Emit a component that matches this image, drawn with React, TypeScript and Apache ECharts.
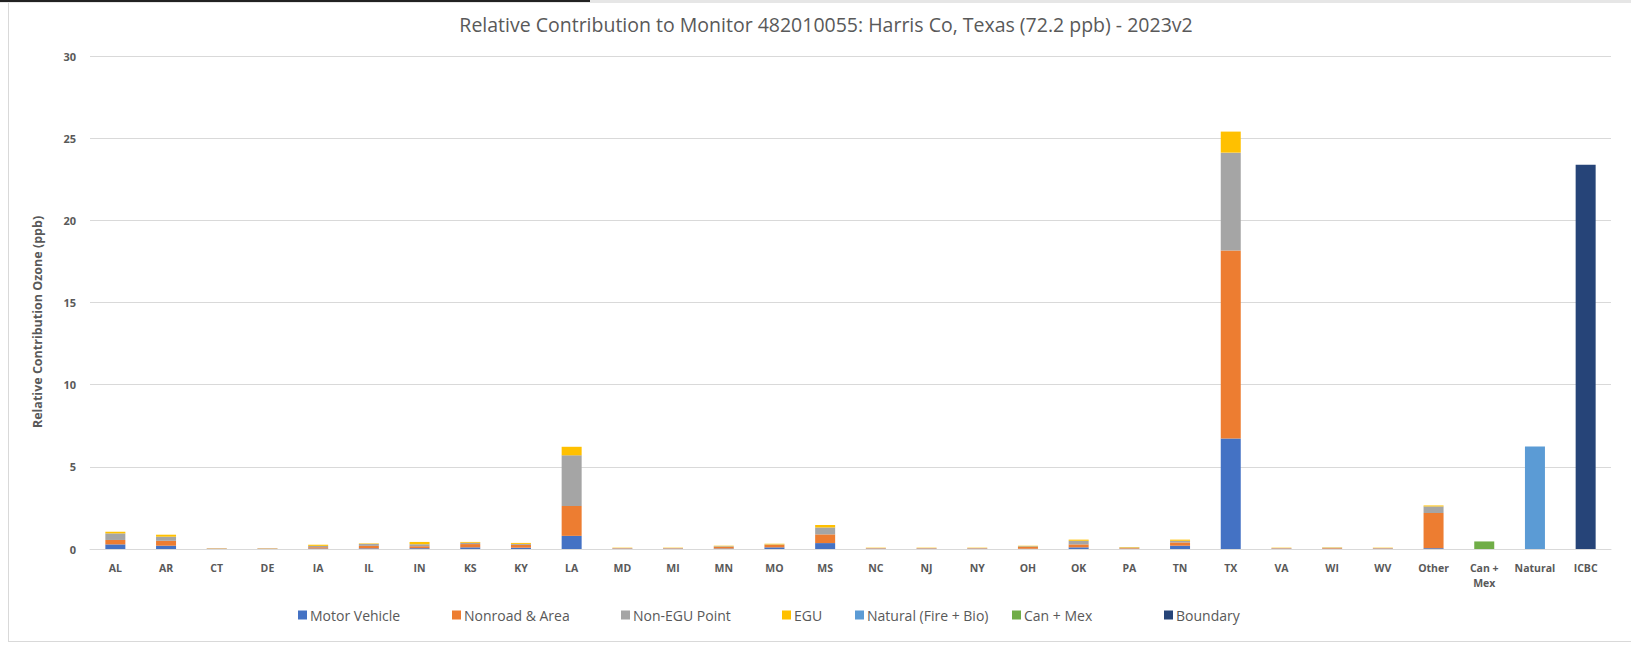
import React, { useEffect, useRef } from "react";
import * as echarts from "echarts";

const categories = ["AL","AR","CT","DE","IA","IL","IN","KS","KY","LA","MD","MI","MN","MO","MS","NC","NJ","NY","OH","OK","PA","TN","TX","VA","WI","WV","Other","Can +\nMex","Natural","ICBC"];

const motorVehicle = [0.28,0.2,0.01,0.01,0.03,0.04,0.05,0.1,0.08,0.8,0.01,0.01,0.03,0.1,0.36,0.01,0.01,0.01,0.02,0.1,0.01,0.2,6.72,0.01,0.01,0.01,0.05,0,0,0];
const nonroadArea = [0.27,0.3,0.02,0.02,0.08,0.15,0.12,0.2,0.17,1.82,0.03,0.03,0.1,0.16,0.53,0.03,0.03,0.03,0.1,0.18,0.04,0.2,11.45,0.03,0.04,0.03,2.14,0,0,0];
const nonEguPoint = [0.4,0.25,0.01,0.01,0.08,0.12,0.12,0.08,0.06,3.08,0.02,0.02,0.04,0.02,0.42,0.02,0.02,0.02,0.04,0.22,0.04,0.1,5.95,0.02,0.03,0.02,0.4,0,0,0];
const egu = [0.1,0.12,0.01,0.01,0.07,0.03,0.14,0.05,0.06,0.52,0.02,0.02,0.03,0.04,0.15,0.02,0.02,0.02,0.04,0.07,0.03,0.07,1.28,0.02,0.02,0.02,0.06,0,0,0];
const naturalFireBio = [0,0,0,0,0,0,0,0,0,0,0,0,0,0,0,0,0,0,0,0,0,0,0,0,0,0,0,0,6.24,0];
const canMex = [0,0,0,0,0,0,0,0,0,0,0,0,0,0,0,0,0,0,0,0,0,0,0,0,0,0,0,0.46,0,0];
const boundary = [0,0,0,0,0,0,0,0,0,0,0,0,0,0,0,0,0,0,0,0,0,0,0,0,0,0,0,0,0,23.38];

const seriesNames = ["Motor Vehicle","Nonroad & Area","Non-EGU Point","EGU","Natural (Fire + Bio)","Can + Mex","Boundary"];
const seriesData = [motorVehicle, nonroadArea, nonEguPoint, egu, naturalFireBio, canMex, boundary];
const colors = ["#4472C4","#ED7D31","#A5A5A5","#FFC000","#5B9BD5","#70AD47","#264478"];
const legendLefts = [296, 450, 619, 780, 853, 1010, 1162];

const title = "Relative Contribution to Monitor 482010055: Harris Co, Texas (72.2 ppb) - 2023v2";
const yAxisName = "Relative Contribution Ozone (ppb)";

export default function App() {
  const ref = useRef<HTMLDivElement>(null);
  useEffect(() => {
    document.body.style.margin = "0";
    const chart = echarts.init(ref.current!, null, { renderer: "svg" });
    const font = "'Open Sans', 'Noto Sans', sans-serif";
    chart.setOption({
      animation: false,
      backgroundColor: "#ffffff",
      title: {
        text: title,
        left: 821,
        top: 9,
        textAlign: "center",
        textStyle: { fontFamily: font, fontSize: 19.5, fontWeight: "normal", color: "#595959" },
      },
      grid: { left: 90, right: 20, top: 56, bottom: 96, containLabel: false },
      legend: seriesNames.map((n, i) => ({
        data: [n],
        left: legendLefts[i] - 3,
        top: 603,
        itemWidth: 9,
        itemHeight: 9,
        itemGap: 4,
        icon: "rect",
        textStyle: { fontFamily: font, fontSize: 14, color: "#595959", padding: [0, 0, 0, -2] },
      })),
      xAxis: {
        type: "category",
        data: categories,
        axisLine: { lineStyle: { color: "#D9D9D9", width: 1 } },
        axisTick: { show: false },
        axisLabel: {
          interval: 0,
          fontFamily: font,
          fontSize: 10.5,
          fontWeight: "bold",
          color: "#595959",
          margin: 11,
          lineHeight: 15,
        },
      },
      yAxis: {
        type: "value",
        min: 0,
        max: 30,
        interval: 5,
        axisLine: { show: false },
        axisTick: { show: false },
        splitLine: { lineStyle: { color: "#D9D9D9", width: 1 } },
        axisLabel: { fontFamily: font, fontSize: 11, fontWeight: "bold", color: "#595959", margin: 14 },
      },
      series: seriesNames.map((n, i) => ({
        name: n,
        type: "bar",
        stack: "total",
        barWidth: 20,
        data: seriesData[i],
        itemStyle: { color: colors[i] },
      })),
      graphic: [
        { type: "rect", left: 0, top: 0, shape: { width: 1631, height: 3 }, style: { fill: "#E6E6E6" } },
        { type: "rect", left: 0, top: 0, shape: { width: 590, height: 2 }, style: { fill: "#222222" } },
        { type: "line", shape: { x1: 8.5, y1: 3, x2: 8.5, y2: 641 }, style: { stroke: "#D9D9D9", lineWidth: 1 } },
        { type: "line", shape: { x1: 8, y1: 641.5, x2: 1631, y2: 641.5 }, style: { stroke: "#D9D9D9", lineWidth: 1 } },
        {
          type: "text",
          x: 37,
          y: 322,
          rotation: Math.PI / 2,
          style: {
            text: yAxisName,
            fontFamily: font,
            fontSize: 12.5,
            fontWeight: "bold",
            fill: "#595959",
            textAlign: "center",
            textVerticalAlign: "middle",
          },
        },
      ],
    });
    return () => chart.dispose();
  }, []);
  return <div ref={ref} style={{ width: 1631, height: 645 }} />;
}
